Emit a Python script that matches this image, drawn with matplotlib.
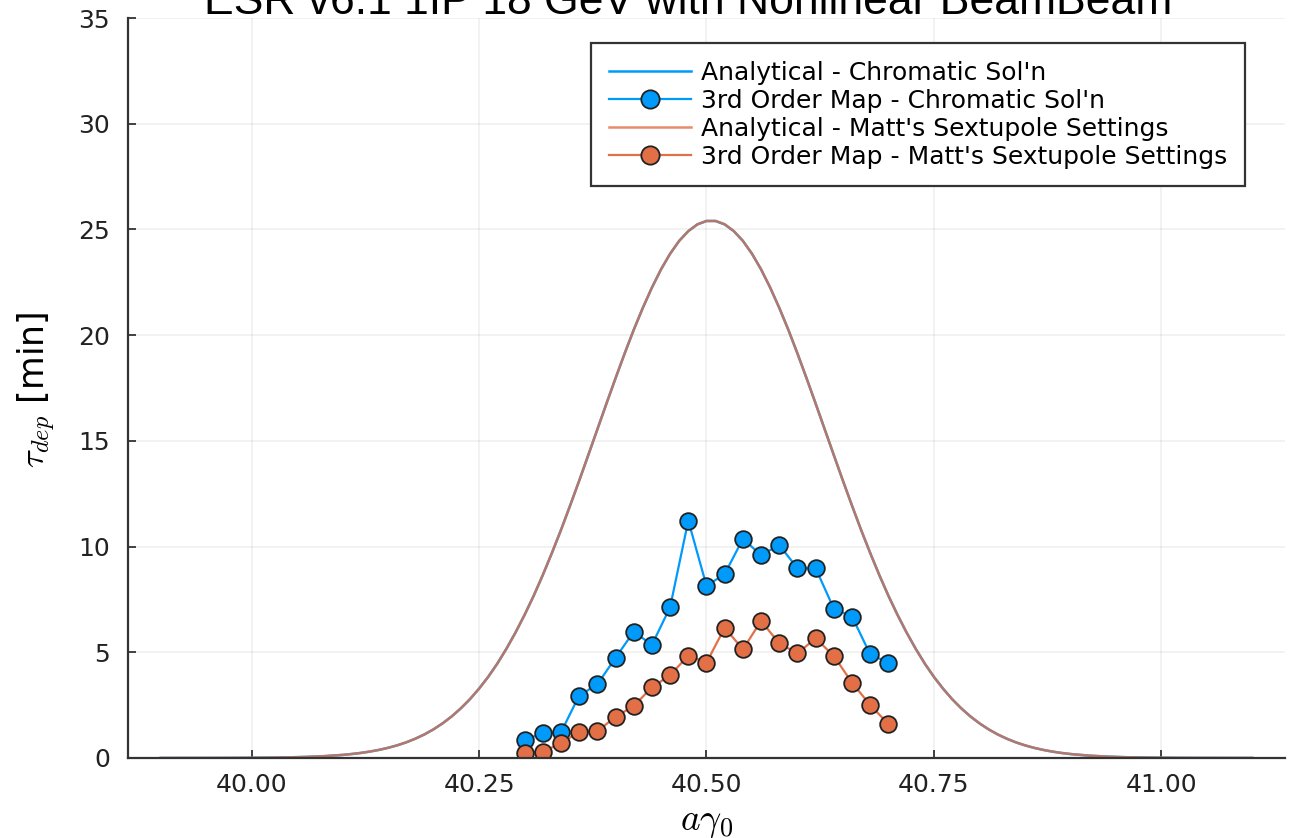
import matplotlib
matplotlib.use("Agg")
import matplotlib.pyplot as plt

plt.rcParams['font.family'] = ['DejaVu Sans']
plt.rcParams['mathtext.fontset'] = 'cm'

# analytical depolarization time vs a*gamma0
x_analytic = [39.90, 39.92, 39.94, 39.96, 39.98, 40.00, 40.02, 40.04, 40.06, 40.08,
              40.10, 40.11, 40.12, 40.13, 40.14, 40.15, 40.16, 40.17, 40.18, 40.19,
              40.20, 40.21, 40.22, 40.23, 40.24, 40.25, 40.26, 40.27, 40.28, 40.29,
              40.30, 40.31, 40.32, 40.33, 40.34, 40.35, 40.36, 40.37, 40.38, 40.39,
              40.40, 40.41, 40.42, 40.43, 40.44, 40.45, 40.46, 40.47, 40.48, 40.49,
              40.50, 40.51, 40.52, 40.53, 40.54, 40.55, 40.56, 40.57, 40.58, 40.59,
              40.60, 40.61, 40.62, 40.63, 40.64, 40.65, 40.66, 40.67, 40.68, 40.69,
              40.70, 40.71, 40.72, 40.73, 40.74, 40.75, 40.76, 40.77, 40.78, 40.79,
              40.80, 40.81, 40.82, 40.83, 40.84, 40.85, 40.86, 40.87, 40.88, 40.89,
              40.90, 40.92, 40.94, 40.96, 40.98, 41.00, 41.02, 41.04, 41.06, 41.08,
              41.10]
tau_analytic = [0.000, 0.000, 0.001, 0.002, 0.004, 0.008, 0.015, 0.028, 0.050, 0.086,
                0.145, 0.187, 0.238, 0.303, 0.383, 0.480, 0.598, 0.741, 0.913, 1.116,
                1.357, 1.640, 1.969, 2.350, 2.783, 3.280, 3.836, 4.460, 5.162, 5.930,
                6.767, 7.670, 8.648, 9.690, 10.78, 11.93, 13.11, 14.32, 15.54, 16.76,
                17.96, 19.13, 20.25, 21.29, 22.25, 23.11, 23.85, 24.46, 24.92, 25.24,
                25.40, 25.40, 25.24, 24.92, 24.46, 23.85, 23.11, 22.25, 21.29, 20.25,
                19.13, 17.96, 16.76, 15.54, 14.32, 13.11, 11.93, 10.78, 9.690, 8.648,
                7.670, 6.767, 5.930, 5.162, 4.460, 3.836, 3.280, 2.783, 2.350, 1.969,
                1.640, 1.357, 1.116, 0.913, 0.741, 0.598, 0.480, 0.383, 0.303, 0.238,
                0.187, 0.112, 0.066, 0.037, 0.021, 0.011, 0.006, 0.003, 0.002, 0.001,
                0.000]

# 3rd order map tracking results
x_map = [40.30, 40.32, 40.34, 40.36, 40.38, 40.40, 40.42, 40.44, 40.46, 40.48, 40.50,
         40.52, 40.54, 40.56, 40.58, 40.60, 40.62, 40.64, 40.66, 40.68, 40.70]
tau_chromatic = [0.85, 1.17, 1.21, 2.95, 3.48, 4.74, 5.97, 5.35, 7.13, 11.23, 8.14,
                 8.70, 10.36, 9.60, 10.07, 8.97, 8.97, 7.06, 6.68, 4.90, 4.51]
tau_matt = [0.25, 0.30, 0.69, 1.24, 1.26, 1.95, 2.46, 3.34, 3.92, 4.84, 4.51,
            6.16, 5.14, 6.48, 5.42, 4.95, 5.66, 4.82, 3.56, 2.50, 1.60]

blue = '#009AFA'
orange = '#E26F46'

fig = plt.figure(figsize=(12.91, 8.38), dpi=100)
ax = fig.add_axes([0.0991, 0.0955, 0.8963, 0.8830])

ax.plot(x_analytic, tau_analytic, color=blue, lw=1.8, label="Analytical - Chromatic Sol'n")
ax.plot(x_map, tau_chromatic, color=blue, lw=1.6, marker='o', ms=12,
        mfc=blue, mec='#222222', mew=1.3, label="3rd Order Map - Chromatic Sol'n")
ax.plot(x_analytic, tau_analytic, color=orange, lw=1.8, alpha=0.8,
        label="Analytical - Matt's Sextupole Settings")
ax.plot(x_map, tau_matt, color=orange, lw=1.6, marker='o', ms=12,
        mfc=orange, mec='#222222', mew=1.3, label="3rd Order Map - Matt's Sextupole Settings")

ax.set_xlim(39.864, 41.136)
ax.set_ylim(0, 35)
ax.set_xticks([40.00, 40.25, 40.50, 40.75, 41.00])
ax.set_xticklabels(['40.00', '40.25', '40.50', '40.75', '41.00'])
ax.set_yticks([0, 5, 10, 15, 20, 25, 30, 35])

ax.grid(True, color='black', alpha=0.06, lw=1.2)
ax.set_axisbelow(True)
for side in ['top', 'right']:
    ax.spines[side].set_visible(False)
for side in ['left', 'bottom']:
    ax.spines[side].set_color('#333333')
    ax.spines[side].set_linewidth(1.6)
ax.tick_params(direction='in', length=6, width=1.3, labelsize=18, colors='#333333',
               labelcolor='#222222')
ax.tick_params(axis='x', pad=11)
ax.tick_params(axis='y', pad=13)

ax.set_xlabel(r'$a\gamma_0$', fontsize=27)
ax.xaxis.set_label_coords(0.5, -0.062)
ax.set_ylabel(r'$\tau_{dep}$ [min]', fontsize=25)
ax.yaxis.set_label_coords(-0.0605, 0.497)

leg = ax.legend(loc='upper right', bbox_to_anchor=(0.9654, 0.9662), fontsize=18,
                handlelength=3.3, labelspacing=0.16, borderpad=0.7, handletextpad=0.4,
                borderaxespad=0, markerscale=1.1, fancybox=False, framealpha=1,
                edgecolor='#333333')
leg.get_frame().set_linewidth(1.6)

fig.text(688 / 1291, (838 - 14) / 838, 'ESR v6.1 1IP 18 GeV with Nonlinear BeamBeam',
         ha='center', va='baseline', fontsize=32,
         family=['Liberation Sans Narrow', 'Liberation Sans'])

fig.savefig('out.png', dpi=100)
